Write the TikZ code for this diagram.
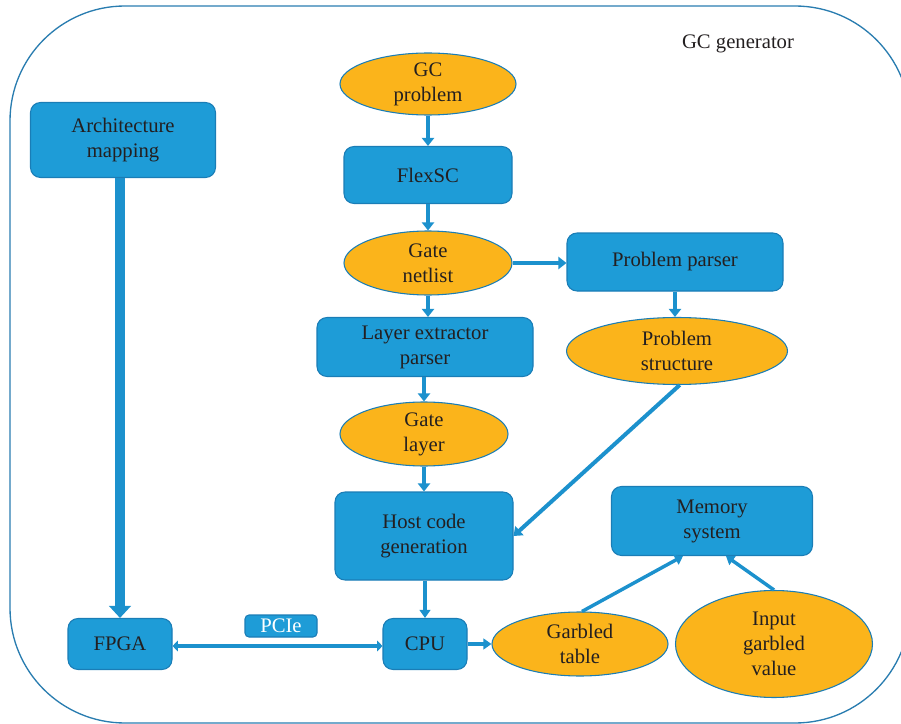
\documentclass[tikz,border=0pt]{standalone}
\usepackage{fontspec}
\setmainfont{Liberation Serif}
\usetikzlibrary{shapes.geometric,arrows.meta,calc}
\definecolor{boxblue}{HTML}{1E9CD7}
\definecolor{boxedge}{HTML}{1A7DB6}
\definecolor{amber}{HTML}{FBB41B}
\definecolor{txt}{HTML}{231F20}
\definecolor{arrowblue}{HTML}{1C91CD}
\definecolor{frame}{HTML}{2A7DB0}
\begin{document}
\begin{tikzpicture}[x=0.75pt,y=-0.75pt,
  lbl/.style={font=\fontsize{15.5}{18.75}\selectfont, text=txt, align=center},
  box/.style={lbl, draw=boxedge, fill=boxblue, rounded corners=7.5pt, line width=0.8pt, inner sep=0pt},
  oval/.style={lbl, ellipse, draw=boxedge, fill=amber, line width=0.8pt, inner sep=0pt},
  flow/.style={draw=arrowblue, line width=3pt, -{Triangle[length=6pt,width=9pt]}},
  bigflow/.style={draw=arrowblue, line width=7.5pt, -{Triangle[length=9pt,width=16pt]}},
  thinflow/.style={draw=arrowblue, line width=2.6pt, -{Triangle[length=6pt,width=8pt]}},
  dualflow/.style={draw=arrowblue, line width=3pt, {Triangle[length=4pt,width=8pt]}-{Triangle[length=4pt,width=8pt]}}
]
\useasboundingbox (0,0) rectangle (901,724);
\begin{scope}
\clip (0,0) rectangle (901,724);
\draw[frame, line width=1pt, rounded corners=86.25pt] (10,6) rectangle (910,723);
\end{scope}

\node[lbl] (title) at (738,44) {GC generator};

\node[oval, minimum width=176*0.75pt, minimum height=62*0.75pt] (gcp) at (428,84) {GC\\problem};
\node[box, minimum width=168*0.75pt, minimum height=57*0.75pt] (flex) at (428,175) {FlexSC};
\node[oval, minimum width=168*0.75pt, minimum height=64*0.75pt] (net) at (428,263) {Gate\\netlist};
\node[box, minimum width=216*0.75pt, minimum height=58*0.75pt] (pp) at (675,262) {Problem parser};
\node[box, minimum width=216*0.75pt, minimum height=59*0.75pt] (lep) at (425,347) {Layer extractor\\parser};
\node[oval, minimum width=221*0.75pt, minimum height=67*0.75pt] (ps) at (677,351) {Problem\\structure};
\node[oval, minimum width=168*0.75pt, minimum height=64*0.75pt] (gl) at (424,434) {Gate\\layer};
\node[box, minimum width=178*0.75pt, minimum height=88*0.75pt] (host) at (424,536) {Host code\\generation};
\node[box, minimum width=201*0.75pt, minimum height=69*0.75pt] (mem) at (712,521) {Memory\\system};
\node[box, minimum width=185*0.75pt, minimum height=75*0.75pt] (arch) at (123,140) {Architecture\\mapping};
\node[box, minimum width=104*0.75pt, minimum height=51*0.75pt] (fpga) at (120,644) {FPGA};
\node[box, text=white, rounded corners=3pt, minimum width=72*0.75pt, minimum height=22*0.75pt] (pcie) at (281,626) {PCIe};
\node[box, minimum width=84*0.75pt, minimum height=51*0.75pt] (cpu) at (425,644) {CPU};
\node[oval, minimum width=176*0.75pt, minimum height=64*0.75pt] (gt) at (580,644) {Garbled\\table};
\node[oval, minimum width=197*0.75pt, minimum height=107*0.75pt] (igv) at (774,644) {Input\\garbled\\value};

\draw[flow] (gcp.south) -- (flex.north);
\draw[flow] (flex.south) -- (net.north);
\draw[flow] (net.east) -- (net.east -| pp.west);
\draw[flow] (net.south) -- (lep.north -| net.south);
\draw[flow] (pp.south) -- (ps.north -| pp.south);
\draw[flow] (lep.south -| gl.north) -- (gl.north);
\draw[flow] (gl.south) -- (host.north);
\draw[flow] ([xshift=2pt]ps.south) -- (host.east);
\draw[thinflow] (host.south -| cpu.north) -- (cpu.north);
\draw[bigflow] (arch.south -| fpga.north) -- (fpga.north);
\draw[dualflow] ([yshift=-1.5pt]fpga.east) -- ([yshift=-1.5pt]cpu.west);
\draw[thinflow] (cpu.east) -- (gt.west);
\draw[thinflow] ([xshift=1.5pt]gt.north) -- ($(mem.south)+(-29,0)$);
\draw[thinflow] (igv.north) -- ($(mem.south)+(14,0)$);
\end{tikzpicture}
\end{document}
